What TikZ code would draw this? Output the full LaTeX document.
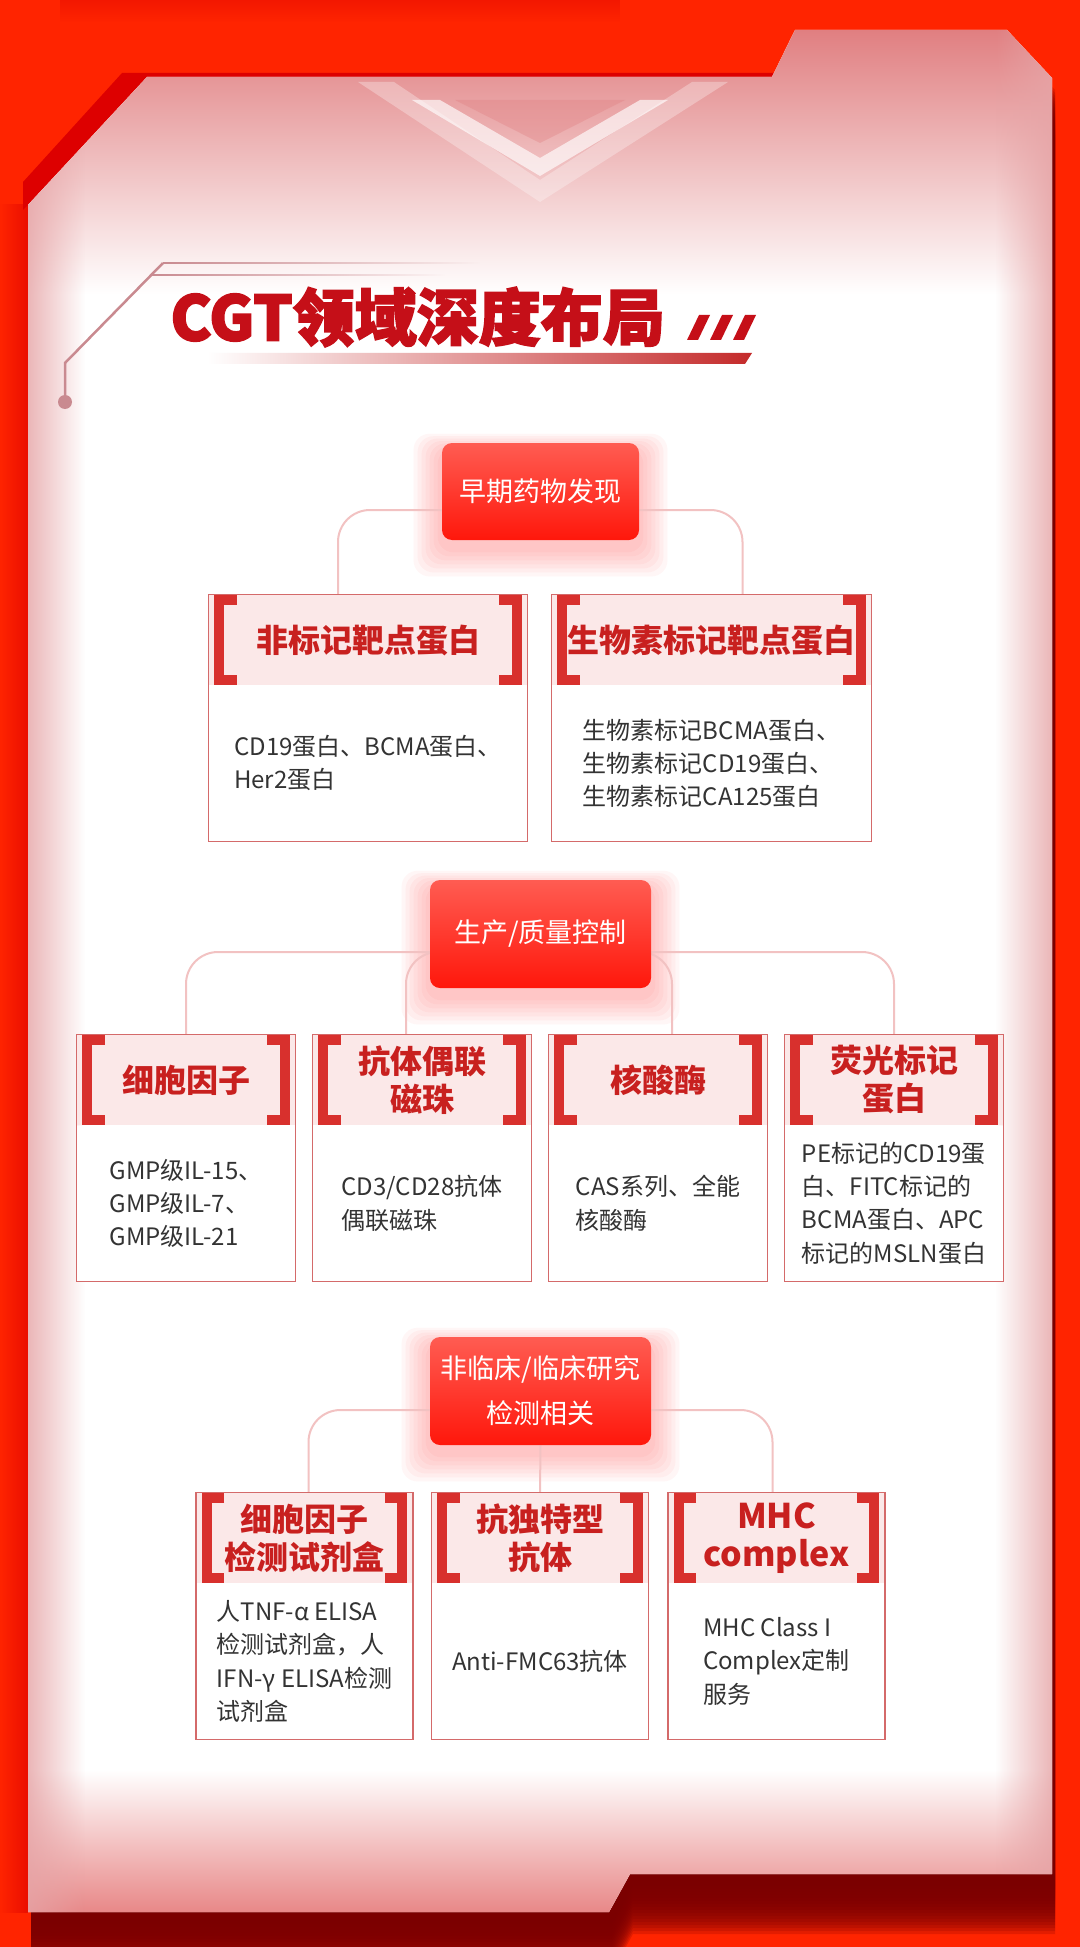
\documentclass[tikz,border=0pt]{standalone}
\usepackage{fontspec}
\usetikzlibrary{positioning,fadings}
\newfontfamily\cjk{Noto Sans CJK SC}
\newfontfamily\cjktitle[BoldFeatures={FakeBold=2.5}]{Noto Sans CJK SC}

\definecolor{bgred}{HTML}{FF2400}
\definecolor{shadowred}{HTML}{7A0000}
\definecolor{darkband}{HTML}{DD0000}
\definecolor{toppink}{HTML}{E07E80}
\definecolor{botpink}{HTML}{E88888}
\definecolor{sidepink}{HTML}{E6A4A6}
\definecolor{titlered}{HTML}{C50F18}
\definecolor{barred}{HTML}{C42A2A}
\definecolor{decopink}{HTML}{C98A90}
\definecolor{headpink}{HTML}{FBE8E8}
\definecolor{headred}{HTML}{C8201F}
\definecolor{brkred}{HTML}{D8302D}
\definecolor{boxred}{HTML}{D46A6A}
\definecolor{linkpink}{HTML}{F2C2C2}
\definecolor{bodygray}{HTML}{333333}
\definecolor{nodetop}{HTML}{FF5C52}
\definecolor{nodebot}{HTML}{FF170B}
\definecolor{glowred}{HTML}{FF5050}

\pgfdeclarelayer{bg}
\pgfdeclarelayer{glow}
\pgfsetlayers{bg,glow,main}

\tikzfading[name=fadeR, left color=transparent!0, right color=transparent!100]
\tikzfading[name=fadeL, left color=transparent!100, right color=transparent!0]
\tikzfading[name=fadeD, top color=transparent!0, bottom color=transparent!100]

% outline of the white sheet, in pixels
\newcommand{\panelpath}{(147,77) -- (772,77) -- (795,30) -- (1007,30) -- (1052,78)
  -- (1052,1874) -- (630,1874) -- (609,1912) -- (28,1912) -- (28,205) -- cycle}

% red square brackets on a header node
\newcommand{\brackets}[1]{%
  \draw[brk] ([xshift=14pt,yshift=-2.5pt]#1.north west) -- ([xshift=5.25pt,yshift=-2.5pt]#1.north west)
    -- ([xshift=5.25pt,yshift=2.5pt]#1.south west) -- ([xshift=14pt,yshift=2.5pt]#1.south west);
  \draw[brk] ([xshift=-14pt,yshift=-2.5pt]#1.north east) -- ([xshift=-5.25pt,yshift=-2.5pt]#1.north east)
    -- ([xshift=-5.25pt,yshift=2.5pt]#1.south east) -- ([xshift=-14pt,yshift=2.5pt]#1.south east);}

\begin{document}
\begin{tikzpicture}[x=0.5pt,y=-0.5pt,
  head/.style={fill=headpink, minimum height=45pt, inner sep=0pt, text=headred, align=center,
    font=\cjk\bfseries\fontsize{16}{19}\selectfont},
  body/.style={fill=white, minimum height=77.5pt, inner sep=0pt, text=bodygray, align=left,
    font=\cjk\fontsize{12}{16.6}\selectfont},
  topbox/.style={rounded corners=5pt, top color=nodetop, bottom color=nodebot, text=white,
    align=center, inner sep=0pt, font=\cjk\fontsize{13.5}{22.5}\selectfont},
  link/.style={draw=linkpink, line width=1pt, rounded corners=16pt},
  boxline/.style={draw=boxred, line width=0.7pt},
  brk/.style={draw=brkred, line width=5pt},
  decoline/.style={fill=decopink}]
\useasboundingbox (0,0) rectangle (1080,1947);

\begin{pgfonlayer}{bg}
  % red ground and shadows round the sheet
  \fill[bgred] (0,0) rectangle (1080,1947);
  \fill[darkband, opacity=0.35, path fading=fadeD] (60,0) rectangle (620,22);
  \foreach \s in {12,15,...,60}{
    \begin{scope}[shift={(3,\s)}]
      \fill[shadowred, opacity=0.2] \panelpath;
    \end{scope}
  }
  \fill[darkband, opacity=0.6, path fading=fadeL] (0,200) rectangle (28,1912);
  \fill[darkband] (122,73) -- (775,73) -- (775,77) -- (147,77) -- (28,205) -- (23,210) -- (23,182) -- cycle;
  % the sheet
  \fill[white] \panelpath;
  \begin{scope}
    \clip \panelpath;
    \shade[top color=toppink, bottom color=white] (0,28) rectangle (1080,295);
    \fill[white] (0,295) rectangle (1080,1770);
    \shade[top color=white, bottom color=botpink] (0,1770) rectangle (1080,1912);
    \fill[sidepink, opacity=0.8, path fading=fadeR] (28,0) rectangle (85,1947);
    \fill[sidepink, opacity=0.8, path fading=fadeL] (995,0) rectangle (1052,1947);
    % chevron
    \fill[white, opacity=0.3] (358,82) -- (540,202) -- (728,82) -- (692,82) -- (540,180) -- (394,82) -- cycle;
    \fill[white, opacity=0.65] (412,100) -- (540,176) -- (668,100) -- (640,100) -- (540,158) -- (440,100) -- cycle;
    \fill[toppink, opacity=0.35] (455,100) -- (540,143) -- (625,100) -- cycle;
  \end{scope}
\end{pgfonlayer}

% title
\fill[decoline, path fading=fadeR] (163,262) rectangle (480,264.5);
\fill[decoline, path fading=fadeR] (151,274) rectangle (445,276.5);
\draw[decopink, line width=1.25pt] (163,263) -- (65,363) -- (65,402);
\fill[decopink] (65,402) circle (7);
\node[anchor=west, inner sep=0pt, text=titlered,
  font=\cjktitle\bfseries\fontsize{31}{31}\selectfont] (title) at (170,317) {CGT领域深度布局};
\foreach \i in {0,1,2}
  \fill[titlered] ({687+23*\i},340) -- ({698+23*\i},340) -- ({710+23*\i},315) -- ({699+23*\i},315) -- cycle;
\shade[left color=white, right color=barred] (207,353) -- (752,353) -- (745,364) -- (207,364) -- cycle;

% level 1
\node[topbox, minimum width=98.5pt, minimum height=48.5pt] (top1) at (540.5,491.5) {早期药物发现};
\node[head, minimum width=159pt] (h11) at (368,640) {非标记靶点蛋白};
\node[body, minimum width=159pt, below=0pt of h11] (b11) {CD19蛋白、BCMA蛋白、\\Her2蛋白};
\node[head, minimum width=159.5pt] (h12) at (711.5,640) {生物素标记靶点蛋白};
\node[body, minimum width=159.5pt, below=0pt of h12] (b12) {生物素标记BCMA蛋白、\\生物素标记CD19蛋白、\\生物素标记CA125蛋白};

% level 2
\node[topbox, minimum width=110.5pt, minimum height=54pt] (top2) at (540.5,934) {生产/质量控制};
\node[head, minimum width=109pt] (h21) at (186,1080) {细胞因子};
\node[body, minimum width=109pt, below=0pt of h21] (b21) {GMP级IL-15、\\GMP级IL-7、\\GMP级IL-21};
\node[head, minimum width=109pt] (h22) at (422,1080) {抗体偶联\\磁珠};
\node[body, minimum width=109pt, below=0pt of h22] (b22) {CD3/CD28抗体\\偶联磁珠};
\node[head, minimum width=109pt] (h23) at (658,1080) {核酸酶};
\node[body, minimum width=109pt, below=0pt of h23] (b23) {CAS系列、全能\\核酸酶};
\node[head, minimum width=109pt] (h24) at (894,1080) {荧光标记\\蛋白};
\node[body, minimum width=109pt, below=0pt of h24] (b24) {PE标记的CD19蛋\\白、FITC标记的\\BCMA蛋白、APC\\标记的MSLN蛋白};

% level 3
\node[topbox, minimum width=110.5pt, minimum height=54pt] (top3) at (540.5,1391) {非临床/临床研究\\检测相关};
\node[head, minimum width=108pt] (h31) at (304.5,1538) {细胞因子\\检测试剂盒};
\node[body, minimum width=108pt, below=0pt of h31] (b31) {人TNF-α ELISA\\检测试剂盒，人\\IFN-γ ELISA检测\\试剂盒};
\node[head, minimum width=108pt] (h32) at (540,1538) {抗独特型\\抗体};
\node[body, minimum width=108pt, below=0pt of h32] (b32) {Anti-FMC63抗体};
\node[head, minimum width=108pt, font=\cjk\bfseries\fontsize{17}{19}\selectfont] (h33) at (776.5,1538) {MHC\\complex};
\node[body, minimum width=108pt, below=0pt of h33] (b33) {MHC Class I\\Complex定制\\服务};

\foreach \n in {11,12,21,22,23,24,31,32,33}{
  \draw[boxline] (h\n.north west) rectangle (b\n.south east);
  \brackets{h\n}
}

\begin{pgfonlayer}{glow}
  \foreach \t in {top1,top2,top3}{
    \foreach \k in {1,...,7}
      \fill[glowred, opacity=0.05, rounded corners=8pt]
        ([shift={(-\k*2pt,-\k*2pt-4pt)}]\t.south west) rectangle ([shift={(\k*2pt,\k*1.2pt-4pt)}]\t.north east);
  }
  \draw[link] ([yshift=-9.25pt]top1.west) -| ([xshift=-15pt]h11.north);
  \draw[link] ([yshift=-9.25pt]top1.east) -| ([xshift=15.5pt]h12.north);
  \draw[link] ([yshift=-9pt]top2.west) -| (h21.north);
  \draw[link] ([yshift=-9pt]top2.west) -| ([xshift=-8pt]h22.north);
  \draw[link] ([yshift=-9pt]top2.east) -| ([xshift=7pt]h23.north);
  \draw[link] ([yshift=-9pt]top2.east) -| (h24.north);
  \draw[link] ([yshift=-9.5pt]top3.west) -| ([xshift=2pt]h31.north);
  \draw[link] (top3.south) -- (h32.north);
  \draw[link] ([yshift=-9.5pt]top3.east) -| ([xshift=-2pt]h33.north);
\end{pgfonlayer}
\end{tikzpicture}
\end{document}
